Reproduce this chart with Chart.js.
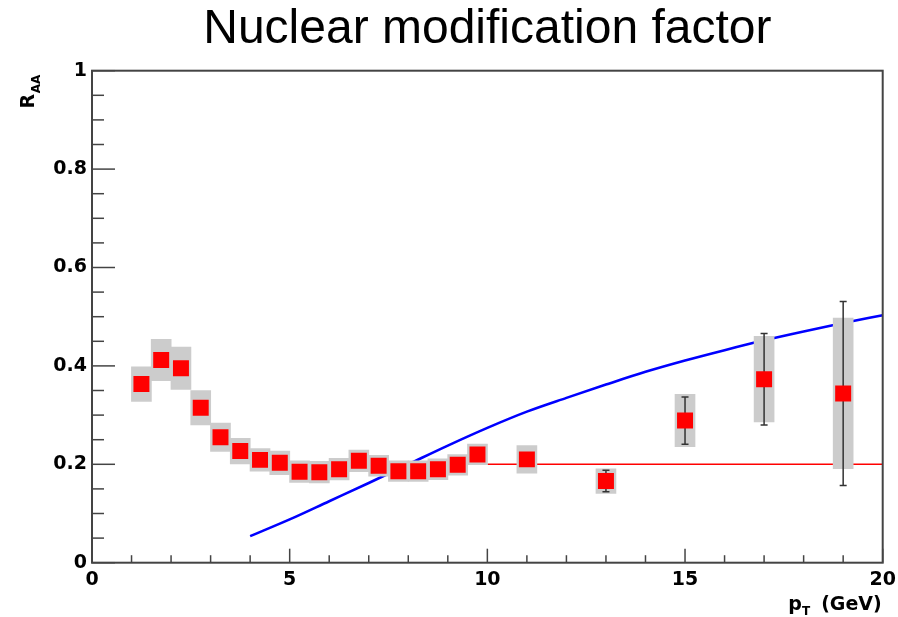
<!DOCTYPE html>
<html>
<head>
<meta charset="utf-8">
<script src="https://cdn.jsdelivr.net/npm/chart.js@4.4.1/dist/chart.umd.min.js"></script>
<style>
  html, body { margin: 0; padding: 0; background: #ffffff; }
  #wrap { width: 898px; height: 617px; }
</style>
</head>
<body>
<div id="wrap"><canvas id="c" width="898" height="617"></canvas></div>
<script>
// ---- data ----
const chartTitle = 'Nuclear modification factor';
const ptValues  = [1.25, 1.75, 2.25, 2.75, 3.25, 3.75, 4.25, 4.75, 5.25, 5.75, 6.25, 6.75, 7.25, 7.75, 8.25, 8.75, 9.25, 9.75, 11, 13, 15, 17, 19];
const raaValues = [0.363, 0.412, 0.395, 0.315, 0.255, 0.227, 0.209, 0.203, 0.185, 0.184, 0.190, 0.207, 0.197, 0.186, 0.186, 0.190, 0.199, 0.220, 0.210, 0.166, 0.289, 0.373, 0.344];
const sysErrors = [0.035, 0.042, 0.043, 0.035, 0.029, 0.026, 0.023, 0.024, 0.022, 0.022, 0.022, 0.022, 0.021, 0.021, 0.021, 0.021, 0.021, 0.021, 0.028, 0.025, 0.053, 0.087, 0.153];
const statErrors = [0.005, 0.005, 0.005, 0.005, 0.005, 0.005, 0.005, 0.005, 0.005, 0.005, 0.005, 0.005, 0.005, 0.005, 0.005, 0.005, 0.005, 0.006, 0.008, 0.022, 0.048, 0.093, 0.187];
const theoryPt  = [4, 5, 6, 7, 8, 9, 10, 11, 12, 13, 14, 15, 16, 17, 18, 19, 20];
const theoryRaa = [0.054, 0.088, 0.125, 0.162, 0.200, 0.238, 0.274, 0.307, 0.335, 0.362, 0.388, 0.411, 0.432, 0.452, 0.470, 0.487, 0.503];
const refLinePt  = [10, 20];
const refLineRaa = [0.2, 0.2];
const xTickValues = [0, 5, 10, 15, 20];
const yTickValues = [0, 0.2, 0.4, 0.6, 0.8, 1];
const xMinorStep = 1;
const yMinorStep = 0.05;

const TITLE_FONT = "'Liberation Sans', Arial, Helvetica, sans-serif";
const AXIS_FONT = "'DejaVu Sans', Verdana, sans-serif";

const frameAndTicks = {
  id: 'frameAndTicks',
  afterDraw(chart) {
    const {ctx, chartArea: a, scales: {x, y}} = chart;
    ctx.save();
    ctx.strokeStyle = '#444444';
    ctx.lineWidth = 1.5;
    // minor + major ticks, pointing inward (bottom and left axes)
    for (let v = x.min; v <= x.max + 1e-9; v += xMinorStep) {
      const px = x.getPixelForValue(v);
      const major = xTickValues.some(t => Math.abs(t - v) < 1e-6);
      const len = major ? 14 : 7.5;
      ctx.beginPath(); ctx.moveTo(px, a.bottom); ctx.lineTo(px, a.bottom - len); ctx.stroke();
    }
    for (let v = y.min; v <= y.max + 1e-9; v += yMinorStep) {
      const py = y.getPixelForValue(v);
      const major = yTickValues.some(t => Math.abs(t - v) < 1e-6);
      const len = major ? 23 : 12;
      ctx.beginPath(); ctx.moveTo(a.left, py); ctx.lineTo(a.left + len, py); ctx.stroke();
    }
    ctx.lineWidth = 2;
    ctx.strokeRect(a.left, a.top, a.right - a.left, a.bottom - a.top);
    ctx.restore();

    // axis titles with subscripts
    ctx.save();
    ctx.fillStyle = '#000';
    ctx.textBaseline = 'alphabetic';
    ctx.textAlign = 'left';
    // x title: p_T (GeV), right aligned to the axis end
    const xEnd = a.right - 1;
    const baseY = 610;
    ctx.font = 'bold 19px ' + AXIS_FONT;
    const wGeV = ctx.measureText('(GeV)').width;
    const gevX = xEnd - wGeV;
    ctx.fillText('(GeV)', gevX, baseY);
    ctx.font = 'bold 12px ' + AXIS_FONT;
    const wT = ctx.measureText('T').width;
    const tX = gevX - 11 - wT;
    ctx.fillText('T', tX, baseY + 5);
    ctx.font = 'bold 19px ' + AXIS_FONT;
    const wP = ctx.measureText('p').width;
    ctx.fillText('p', tX - wP, baseY);

    // y title: R_AA, rotated
    ctx.translate(33.5, 108.5);
    ctx.rotate(-Math.PI / 2);
    ctx.font = 'bold 19px ' + AXIS_FONT;
    ctx.fillText('R', 0, 0);
    const wR = ctx.measureText('R').width;
    ctx.font = 'bold 12px ' + AXIS_FONT;
    ctx.fillText('AA', wR + 0.5, 6.5);
    ctx.restore();
  }
};

const errorBars = {
  id: 'errorBars',
  afterDatasetDraw(chart, args) {
    if (args.index !== 0) return;
    const {ctx, scales: {x, y}} = chart;
    ctx.save();
    ctx.strokeStyle = '#333333';
    ctx.lineWidth = 1.5;
    ptValues.forEach((p, i) => {
      const px = x.getPixelForValue(p);
      const lo = y.getPixelForValue(raaValues[i] - statErrors[i]);
      const hi = y.getPixelForValue(raaValues[i] + statErrors[i]);
      ctx.beginPath();
      ctx.moveTo(px, lo); ctx.lineTo(px, hi);
      ctx.moveTo(px - 3.5, lo); ctx.lineTo(px + 3.5, lo);
      ctx.moveTo(px - 3.5, hi); ctx.lineTo(px + 3.5, hi);
      ctx.stroke();
    });
    ctx.restore();
  }
};

new Chart(document.getElementById('c'), {
  type: 'scatter',
  data: {
    datasets: [
      {
        type: 'bar',
        label: 'systematic',
        data: ptValues.map((p, i) => ({x: p, y: [raaValues[i] - sysErrors[i], raaValues[i] + sysErrors[i]]})),
        backgroundColor: '#cccccc',
        borderWidth: 0,
        barThickness: 20,
        grouped: false,
        order: 2
      },
      {
        type: 'line',
        label: 'theory',
        data: theoryPt.map((p, i) => ({x: p, y: theoryRaa[i]})),
        borderColor: '#0000ff',
        borderWidth: 2.6,
        pointRadius: 0,
        fill: false,
        cubicInterpolationMode: 'monotone',
        order: 3
      },
      {
        type: 'line',
        label: 'reference',
        data: refLinePt.map((p, i) => ({x: p, y: refLineRaa[i]})),
        borderColor: '#ff0000',
        borderWidth: 1.6,
        pointRadius: 0,
        fill: false,
        order: 4
      },
      {
        type: 'scatter',
        label: 'RAA',
        data: ptValues.map((p, i) => ({x: p, y: raaValues[i]})),
        pointStyle: 'rect',
        pointRadius: 11.3,
        pointHoverRadius: 11.3,
        backgroundColor: '#ff0000',
        borderWidth: 0,
        order: 1
      }
    ]
  },
  options: {
    responsive: false,
    animation: false,
    events: [],
    layout: { padding: { left: 0, right: 15.3, top: 0, bottom: 0 } },
    plugins: {
      legend: { display: false },
      tooltip: { enabled: false },
      title: {
        display: true,
        text: chartTitle,
        fullSize: false,
        color: '#000000',
        font: { family: TITLE_FONT, size: 48, weight: 'normal', lineHeight: 1 },
        padding: { top: 6, bottom: 16.7 }
      }
    },
    scales: {
      x: {
        type: 'linear',
        min: 0, max: 20,
        offset: false,
        grid: { display: false, drawTicks: false },
        border: { display: false },
        afterBuildTicks: s => { s.ticks = xTickValues.map(v => ({value: v})); },
        afterFit: s => { s.height = 54.3; s.paddingLeft = 0; s.paddingRight = 0; },
        ticks: {
          padding: 6,
          color: '#000000',
          font: { family: AXIS_FONT, size: 19, weight: 'bold' },
          maxRotation: 0,
          callback: v => String(v)
        }
      },
      y: {
        type: 'linear',
        min: 0, max: 1,
        grid: { display: false, drawTicks: false },
        border: { display: false },
        afterBuildTicks: s => { s.ticks = yTickValues.map(v => ({value: v})); },
        afterFit: s => { s.width = 92; s.paddingTop = 0; s.paddingBottom = 0; },
        ticks: {
          padding: 5,
          color: '#000000',
          font: { family: AXIS_FONT, size: 19, weight: 'bold' },
          callback: v => String(v)
        }
      }
    }
  },
  plugins: [errorBars, frameAndTicks]
});
</script>
</body>
</html>
